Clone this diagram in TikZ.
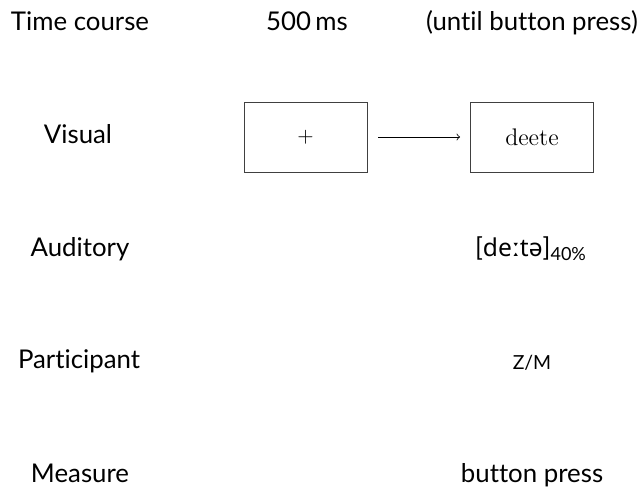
\documentclass[tikz,border=0pt]{standalone}
\usepackage{fontspec}
\setsansfont{Lato}[Ligatures=NoCommon]
\newfontfamily\ipafont{Noto Sans}
\usetikzlibrary{positioning}

\begin{document}
\begin{tikzpicture}[x=0.5pt,y=-0.5pt,
  row/.style={font=\sffamily\fontsize{12.9}{15}\selectfont,anchor=base,inner sep=0pt},
  screen/.style={draw=black!75,line width=0.4pt,minimum width=61.5pt,minimum height=35pt,inner sep=0pt}]
  \useasboundingbox (0,0) rectangle (640,486);

  % heading
  \node[row] (time) at (80,31) {Time course};
  \node[row] (fix) at (307,31) {500\,ms};
  \node[row] (until) at (532,31) {(until button press)};

  % rows
  \node[row] (vis) at (78,143) {Visual};
  \node[row] (aud) at (80,256) {Auditory};
  \node[row] (part) at (79,368) {Participant};
  \node[row] (meas) at (80,482) {Measure};

  \node[screen,font=\fontsize{10.5}{12}\selectfont] (cross) at (305.5,137) {+};
  \node[screen,font=\fontsize{12}{14}\selectfont] (word) at (532,137) {deete};
  \draw[->] ([xshift=5.5pt]cross.east) -- ([xshift=-5pt]word.west);

  \node[row] (sound) at (531,256) {[{\ipafont\fontsize{12.3}{15}\selectfont deːtə}]\textsubscript{40\%}};
  \node[row] (resp) at (532,369) {{\fontsize{9.7}{11}\selectfont Z/M}};
  \node[row] (press) at (532,482) {button press};
\end{tikzpicture}
\end{document}
